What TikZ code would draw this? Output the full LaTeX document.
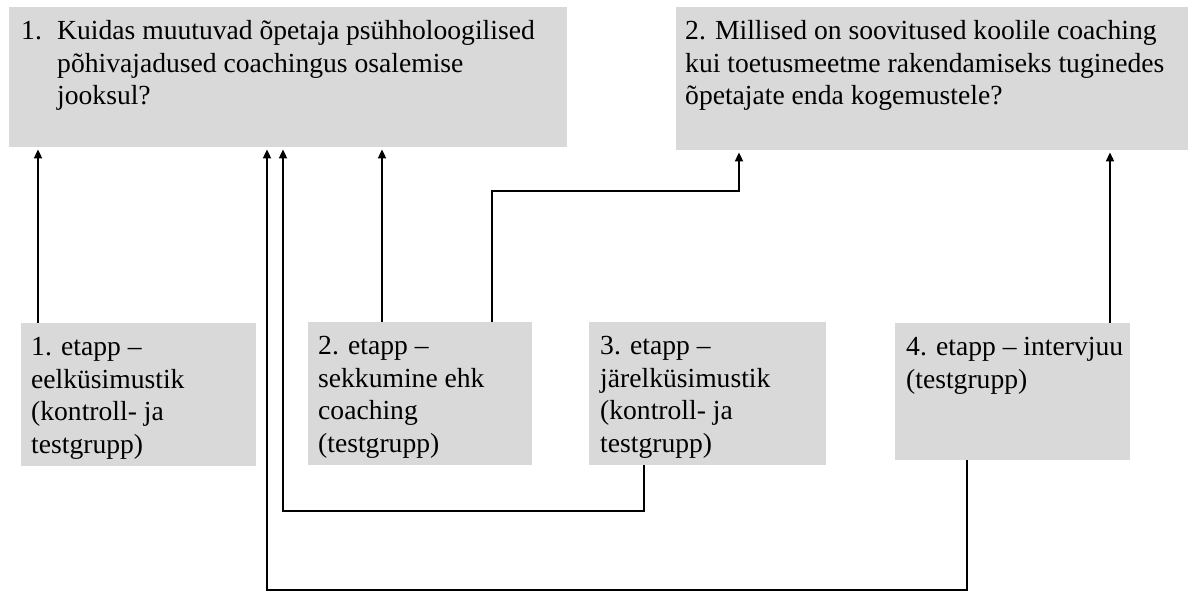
\documentclass[tikz,border=0pt]{standalone}
\usepackage{fontspec}
\setmainfont{Liberation Serif}
\usetikzlibrary{arrows.meta,calc}
\definecolor{boxgray}{HTML}{D9D9D9}
\newcommand\bxtext[4]{\parbox[t][#2][t]{#1}{\setlength{\leftskip}{#3}\rule{0pt}{32.5pt}\ignorespaces#4}}
\tikzset{
  box/.style={fill=boxgray, inner sep=0pt, anchor=north west, text=black},
  arr/.style={draw=black, line width=1.8pt, -{Triangle[length=9pt,width=8pt]}, shorten >=2pt},
}
\begin{document}
\begin{tikzpicture}[x=1pt, y=-1pt, font=\fontsize{27.6}{32.5}\selectfont]
\useasboundingbox (0,0) rectangle (1196,592);
% research questions
\node[box] (q1) at (9,7) {\bxtext{558pt}{140pt}{12pt}{\hangindent=36pt\hangafter=1 \makebox[36pt][l]{1.}Kuidas muutuvad õpetaja psühholoogilised\\põhivajadused coachingus osalemise\\jooksul?}};
\node[box] (q2) at (676,7) {\bxtext{512pt}{143pt}{9pt}{2. Millised on soovitused koolile coaching\\kui toetusmeetme rakendamiseks tuginedes\\õpetajate enda kogemustele?}};
% stages
\node[box] (s1) at (21,323) {\bxtext{235pt}{143pt}{10pt}{1. etapp –\\eelküsimustik\\(kontroll- ja\\testgrupp)}};
\node[box] (s2) at (308,322) {\bxtext{224pt}{143pt}{10pt}{2. etapp –\\sekkumine ehk\\coaching\\(testgrupp)}};
\node[box] (s3) at (589,322) {\bxtext{237pt}{143pt}{11pt}{3. etapp –\\järelküsimustik\\(kontroll- ja\\testgrupp)}};
\node[box] (s4) at (895,323) {\bxtext{235pt}{137pt}{11pt}{4. etapp – intervjuu\\(testgrupp)}};
% helper coordinates
\coordinate (a1) at (38,0);
\coordinate (a2) at (382,0);
\coordinate (k1) at (492,191);
\coordinate (k2) at (739,191);
\coordinate (m1) at (644,511);
\coordinate (m2) at (283,511);
\coordinate (n1) at (967,590);
\coordinate (n2) at (267,590);
\coordinate (p1) at (1110,0);
% connectors
\draw[arr] (s1.north -| a1) -- (q1.south -| a1);
\draw[arr] (s2.north -| a2) -- (q1.south -| a2);
\draw[arr] (s2.north -| k1) -- (k1) -- (k2) -- (q2.south -| k2);
\draw[arr] (s3.south -| m1) -- (m1) -- (m2) -- (q1.south -| m2);
\draw[arr] (s4.south -| n1) -- (n1) -- (n2) -- (q1.south -| n2);
\draw[arr] (s4.north -| p1) -- (q2.south -| p1);
\end{tikzpicture}
\end{document}
